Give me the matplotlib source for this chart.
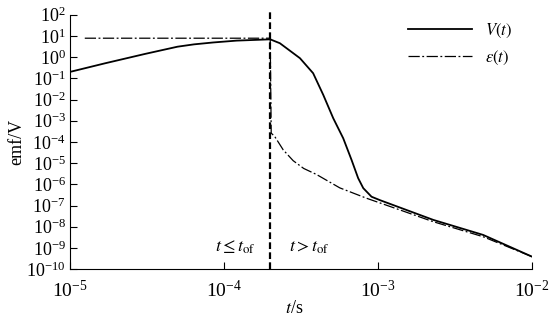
import matplotlib
matplotlib.use("Agg")
import matplotlib.pyplot as plt
from matplotlib.ticker import LogFormatterSciNotation, NullLocator

plt.rcParams["font.family"] = "serif"
plt.rcParams["font.serif"] = ["Liberation Serif", "DejaVu Serif"]
plt.rcParams["mathtext.fontset"] = "stix"

# turn-off time
t_of = 2.0e-4

# V(t), solid curve
t_v = [1.0e-5, 1.69e-5, 3.07e-5, 5.0e-5, 6.4e-5, 8.5e-5, 1.21e-4, 2.0e-4,
       2.31e-4, 3.12e-4, 3.80e-4, 4.42e-4, 5.13e-4, 5.96e-4, 6.75e-4,
       7.45e-4, 8.04e-4, 9.1e-4, 1.03e-3, 2.29e-3, 4.83e-3, 1.0e-2]
v_vals = [0.20, 0.51, 1.41, 3.1, 4.0, 4.9, 6.0, 6.9,
          4.53, 0.89, 0.174, 1.66e-2, 1.32e-3, 1.48e-4, 1.41e-5,
          1.95e-6, 6.6e-7, 2.6e-7, 1.8e-7, 2.1e-8, 4.1e-9, 3.9e-10]

# eps(t), dash-dot curve
t_e = [1.25e-5, 2.0e-4, 2.03e-4, 2.14e-4, 2.43e-4, 2.82e-4, 3.3e-4, 4.0e-4,
       5.66e-4, 8.45e-4, 1.39e-3, 2.28e-3, 4.81e-3, 1.0e-2]
e_vals = [7.8, 7.8, 2.6e-4, 1.8e-4, 4.2e-5, 1.3e-5, 5.6e-6, 2.9e-6,
          6.8e-7, 2.2e-7, 6.2e-8, 1.74e-8, 3.4e-9, 3.9e-10]

x_ticks = [1e-5, 1e-4, 1e-3, 1e-2]
y_ticks = [1e-10, 1e-9, 1e-8, 1e-7, 1e-6, 1e-5, 1e-4, 1e-3, 1e-2,
           1e-1, 1e0, 1e1, 1e2]

fig = plt.figure(figsize=(5.5, 3.2), dpi=100)
ax = fig.add_axes([0.127, 0.159, 0.84, 0.795])

ax.plot(t_v, v_vals, color="black", lw=1.3, label=r"$V(t)$")
ax.plot(t_e, e_vals, color="black", lw=0.9, linestyle=(0, (9, 2, 1.5, 2)),
        label=r"$\varepsilon(t)$")
ax.axvline(t_of, ymax=1.01, color="black", lw=1.6, linestyle=(0, (3, 1.5)),
           clip_on=False)

ax.set_xscale("log")
ax.set_yscale("log")
ax.set_xlim(1e-5, 1e-2)
ax.set_ylim(1e-10, 1e2)

ax.set_xticks(x_ticks)
ax.set_yticks(y_ticks)
ax.xaxis.set_minor_locator(NullLocator())
ax.yaxis.set_minor_locator(NullLocator())
ax.xaxis.set_major_formatter(LogFormatterSciNotation())
ax.yaxis.set_major_formatter(LogFormatterSciNotation())
ax.tick_params(direction="in", length=5, width=0.8)
ax.tick_params(axis="y", pad=3, labelsize=13)
ax.tick_params(axis="x", pad=8, labelsize=14)

ax.spines["top"].set_visible(False)
ax.spines["right"].set_visible(False)

ax.set_ylabel("emf/V", fontsize=13, labelpad=1)
ax.set_xlabel(r"$t$/s", fontsize=13, labelpad=0)
ax.xaxis.set_label_coords(0.485, -0.12)

ax.text(1.18e-4, 1.1e-9, r"$t \leq t_{\rm of}$", fontsize=13, ha="center", va="center")
ax.text(3.6e-4, 1.1e-9, r"$t > t_{\rm of}$", fontsize=13, ha="center", va="center")

ax.legend(loc="upper right", bbox_to_anchor=(0.99, 1.03), frameon=False,
          fontsize=12, handlelength=3.8, handletextpad=0.8, labelspacing=0.5)

fig.savefig("out.png", dpi=100)
